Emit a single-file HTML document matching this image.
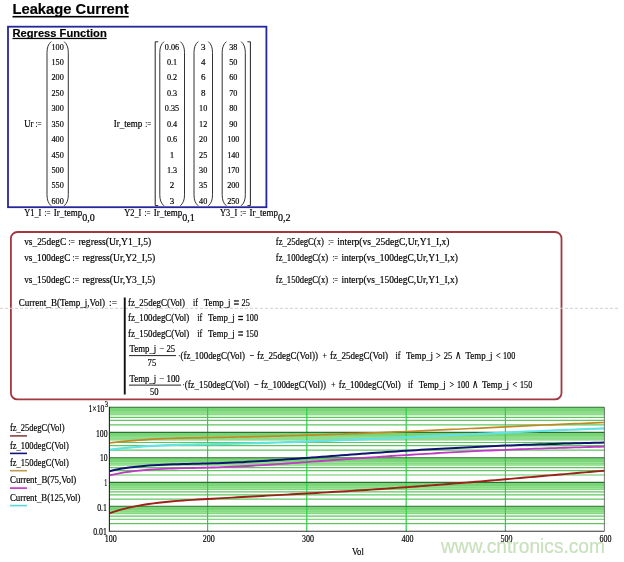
<!DOCTYPE html>
<html><head><meta charset="utf-8"><title>Leakage Current</title>
<style>html,body{margin:0;padding:0;background:#fff;}body{width:624px;height:562px;overflow:hidden;font-family:"Liberation Serif",serif;}svg{display:block}</style>
</head><body>
<svg width="624" height="562" viewBox="0 0 624 562">
<rect width="624" height="562" fill="#fff"/>
<defs><filter id="soft" x="0" y="0" width="100%" height="100%" filterUnits="userSpaceOnUse" color-interpolation-filters="sRGB"><feGaussianBlur stdDeviation="0.32"/></filter></defs>
<g filter="url(#soft)">
<text x="12.5" y="13.75" font-family="Liberation Sans" font-size="14" font-weight="bold" fill="#000" text-anchor="start" textLength="116.2" lengthAdjust="spacingAndGlyphs" stroke="#000" stroke-width="0.18" xml:space="preserve">Leakage Current</text>
<rect x="12.5" y="15.9" width="116.2" height="1.6" fill="#000"/>
<rect x="8" y="26.7" width="258.4" height="180.5" fill="none" stroke="#26269c" stroke-width="1.8"/>
<text x="12.5" y="36.8" font-family="Liberation Sans" font-size="11" font-weight="bold" fill="#000" text-anchor="start" textLength="94.2" lengthAdjust="spacingAndGlyphs" stroke="#000" stroke-width="0.18" xml:space="preserve">Regress Function</text>
<rect x="12.5" y="37.8" width="94.2" height="1.3" fill="#000"/>
<path d="M51.2,41.6 C48.2,44.1 47,47.6 47,52.6 L47,194.8 C47,199.8 48.2,203.3 51.2,205.8" fill="none" stroke="#333" stroke-width="1"/>
<path d="M64.1,41.6 C67.1,44.1 68.3,47.6 68.3,52.6 L68.3,194.8 C68.3,199.8 67.1,203.3 64.1,205.8" fill="none" stroke="#333" stroke-width="1"/>
<text x="57.6" y="49.6" font-family="Liberation Serif" font-size="9" font-weight="normal" fill="#000" text-anchor="middle" textLength="12.29" lengthAdjust="spacingAndGlyphs" stroke="#000" stroke-width="0.18" xml:space="preserve">100</text>
<text x="57.6" y="65.02" font-family="Liberation Serif" font-size="9" font-weight="normal" fill="#000" text-anchor="middle" textLength="12.29" lengthAdjust="spacingAndGlyphs" stroke="#000" stroke-width="0.18" xml:space="preserve">150</text>
<text x="57.6" y="80.44" font-family="Liberation Serif" font-size="9" font-weight="normal" fill="#000" text-anchor="middle" textLength="12.29" lengthAdjust="spacingAndGlyphs" stroke="#000" stroke-width="0.18" xml:space="preserve">200</text>
<text x="57.6" y="95.86" font-family="Liberation Serif" font-size="9" font-weight="normal" fill="#000" text-anchor="middle" textLength="12.29" lengthAdjust="spacingAndGlyphs" stroke="#000" stroke-width="0.18" xml:space="preserve">250</text>
<text x="57.6" y="111.28" font-family="Liberation Serif" font-size="9" font-weight="normal" fill="#000" text-anchor="middle" textLength="12.29" lengthAdjust="spacingAndGlyphs" stroke="#000" stroke-width="0.18" xml:space="preserve">300</text>
<text x="57.6" y="126.7" font-family="Liberation Serif" font-size="9" font-weight="normal" fill="#000" text-anchor="middle" textLength="12.29" lengthAdjust="spacingAndGlyphs" stroke="#000" stroke-width="0.18" xml:space="preserve">350</text>
<text x="57.6" y="142.12" font-family="Liberation Serif" font-size="9" font-weight="normal" fill="#000" text-anchor="middle" textLength="12.29" lengthAdjust="spacingAndGlyphs" stroke="#000" stroke-width="0.18" xml:space="preserve">400</text>
<text x="57.6" y="157.54" font-family="Liberation Serif" font-size="9" font-weight="normal" fill="#000" text-anchor="middle" textLength="12.29" lengthAdjust="spacingAndGlyphs" stroke="#000" stroke-width="0.18" xml:space="preserve">450</text>
<text x="57.6" y="172.96" font-family="Liberation Serif" font-size="9" font-weight="normal" fill="#000" text-anchor="middle" textLength="12.29" lengthAdjust="spacingAndGlyphs" stroke="#000" stroke-width="0.18" xml:space="preserve">500</text>
<text x="57.6" y="188.38" font-family="Liberation Serif" font-size="9" font-weight="normal" fill="#000" text-anchor="middle" textLength="12.29" lengthAdjust="spacingAndGlyphs" stroke="#000" stroke-width="0.18" xml:space="preserve">550</text>
<text x="57.6" y="203.8" font-family="Liberation Serif" font-size="9" font-weight="normal" fill="#000" text-anchor="middle" textLength="12.29" lengthAdjust="spacingAndGlyphs" stroke="#000" stroke-width="0.18" xml:space="preserve">600</text>
<text x="24.2" y="127" font-family="Liberation Serif" font-size="9.4" font-weight="normal" fill="#000" text-anchor="start" textLength="9.2" lengthAdjust="spacingAndGlyphs" stroke="#000" stroke-width="0.18" xml:space="preserve">Ur</text>
<text x="35.5" y="127" font-family="Liberation Serif" font-size="9.4" font-weight="normal" fill="#000" text-anchor="start" textLength="6" lengthAdjust="spacingAndGlyphs" stroke="#000" stroke-width="0.18" xml:space="preserve">:=</text>
<text x="113.8" y="127" font-family="Liberation Serif" font-size="9.4" font-weight="normal" fill="#000" text-anchor="start" textLength="28.5" lengthAdjust="spacingAndGlyphs" stroke="#000" stroke-width="0.18" xml:space="preserve">Ir_temp</text>
<text x="145.2" y="127" font-family="Liberation Serif" font-size="9.4" font-weight="normal" fill="#000" text-anchor="start" textLength="6" lengthAdjust="spacingAndGlyphs" stroke="#000" stroke-width="0.18" xml:space="preserve">:=</text>
<path d="M158.2,41.8 L155.2,41.8 L155.2,205.6 L158.2,205.6" fill="none" stroke="#222" stroke-width="1"/>
<path d="M247.4,41.8 L250.4,41.8 L250.4,205.6 L247.4,205.6" fill="none" stroke="#222" stroke-width="1"/>
<path d="M164.0,41.6 C161.0,44.1 159.8,47.6 159.8,52.6 L159.8,194.8 C159.8,199.8 161.0,203.3 164.0,205.8" fill="none" stroke="#333" stroke-width="1"/>
<path d="M180.3,41.6 C183.3,44.1 184.5,47.6 184.5,52.6 L184.5,194.8 C184.5,199.8 183.3,203.3 180.3,205.8" fill="none" stroke="#333" stroke-width="1"/>
<path d="M198.2,41.6 C195.2,44.1 194,47.6 194,52.6 L194,194.8 C194,199.8 195.2,203.3 198.2,205.8" fill="none" stroke="#333" stroke-width="1"/>
<path d="M208.3,41.6 C211.3,44.1 212.5,47.6 212.5,52.6 L212.5,194.8 C212.5,199.8 211.3,203.3 208.3,205.8" fill="none" stroke="#333" stroke-width="1"/>
<path d="M226.39999999999998,41.6 C223.39999999999998,44.1 222.2,47.6 222.2,52.6 L222.2,194.8 C222.2,199.8 223.39999999999998,203.3 226.39999999999998,205.8" fill="none" stroke="#333" stroke-width="1"/>
<path d="M241.10000000000002,41.6 C244.10000000000002,44.1 245.3,47.6 245.3,52.6 L245.3,194.8 C245.3,199.8 244.10000000000002,203.3 241.10000000000002,205.8" fill="none" stroke="#333" stroke-width="1"/>
<text x="172" y="49.6" font-family="Liberation Serif" font-size="9" font-weight="normal" fill="#000" text-anchor="middle" textLength="14.33" lengthAdjust="spacingAndGlyphs" stroke="#000" stroke-width="0.18" xml:space="preserve">0.06</text>
<text x="172" y="65.02" font-family="Liberation Serif" font-size="9" font-weight="normal" fill="#000" text-anchor="middle" textLength="10.24" lengthAdjust="spacingAndGlyphs" stroke="#000" stroke-width="0.18" xml:space="preserve">0.1</text>
<text x="172" y="80.44" font-family="Liberation Serif" font-size="9" font-weight="normal" fill="#000" text-anchor="middle" textLength="10.24" lengthAdjust="spacingAndGlyphs" stroke="#000" stroke-width="0.18" xml:space="preserve">0.2</text>
<text x="172" y="95.86" font-family="Liberation Serif" font-size="9" font-weight="normal" fill="#000" text-anchor="middle" textLength="10.24" lengthAdjust="spacingAndGlyphs" stroke="#000" stroke-width="0.18" xml:space="preserve">0.3</text>
<text x="172" y="111.28" font-family="Liberation Serif" font-size="9" font-weight="normal" fill="#000" text-anchor="middle" textLength="14.33" lengthAdjust="spacingAndGlyphs" stroke="#000" stroke-width="0.18" xml:space="preserve">0.35</text>
<text x="172" y="126.7" font-family="Liberation Serif" font-size="9" font-weight="normal" fill="#000" text-anchor="middle" textLength="10.24" lengthAdjust="spacingAndGlyphs" stroke="#000" stroke-width="0.18" xml:space="preserve">0.4</text>
<text x="172" y="142.12" font-family="Liberation Serif" font-size="9" font-weight="normal" fill="#000" text-anchor="middle" textLength="10.24" lengthAdjust="spacingAndGlyphs" stroke="#000" stroke-width="0.18" xml:space="preserve">0.6</text>
<text x="172" y="157.54" font-family="Liberation Serif" font-size="9" font-weight="normal" fill="#000" text-anchor="middle" stroke="#000" stroke-width="0.18" xml:space="preserve">1</text>
<text x="172" y="172.96" font-family="Liberation Serif" font-size="9" font-weight="normal" fill="#000" text-anchor="middle" textLength="10.24" lengthAdjust="spacingAndGlyphs" stroke="#000" stroke-width="0.18" xml:space="preserve">1.3</text>
<text x="172" y="188.38" font-family="Liberation Serif" font-size="9" font-weight="normal" fill="#000" text-anchor="middle" stroke="#000" stroke-width="0.18" xml:space="preserve">2</text>
<text x="172" y="203.8" font-family="Liberation Serif" font-size="9" font-weight="normal" fill="#000" text-anchor="middle" stroke="#000" stroke-width="0.18" xml:space="preserve">3</text>
<text x="203.2" y="49.6" font-family="Liberation Serif" font-size="9" font-weight="normal" fill="#000" text-anchor="middle" stroke="#000" stroke-width="0.18" xml:space="preserve">3</text>
<text x="203.2" y="65.02" font-family="Liberation Serif" font-size="9" font-weight="normal" fill="#000" text-anchor="middle" stroke="#000" stroke-width="0.18" xml:space="preserve">4</text>
<text x="203.2" y="80.44" font-family="Liberation Serif" font-size="9" font-weight="normal" fill="#000" text-anchor="middle" stroke="#000" stroke-width="0.18" xml:space="preserve">6</text>
<text x="203.2" y="95.86" font-family="Liberation Serif" font-size="9" font-weight="normal" fill="#000" text-anchor="middle" stroke="#000" stroke-width="0.18" xml:space="preserve">8</text>
<text x="203.2" y="111.28" font-family="Liberation Serif" font-size="9" font-weight="normal" fill="#000" text-anchor="middle" textLength="8.19" lengthAdjust="spacingAndGlyphs" stroke="#000" stroke-width="0.18" xml:space="preserve">10</text>
<text x="203.2" y="126.7" font-family="Liberation Serif" font-size="9" font-weight="normal" fill="#000" text-anchor="middle" textLength="8.19" lengthAdjust="spacingAndGlyphs" stroke="#000" stroke-width="0.18" xml:space="preserve">12</text>
<text x="203.2" y="142.12" font-family="Liberation Serif" font-size="9" font-weight="normal" fill="#000" text-anchor="middle" textLength="8.19" lengthAdjust="spacingAndGlyphs" stroke="#000" stroke-width="0.18" xml:space="preserve">20</text>
<text x="203.2" y="157.54" font-family="Liberation Serif" font-size="9" font-weight="normal" fill="#000" text-anchor="middle" textLength="8.19" lengthAdjust="spacingAndGlyphs" stroke="#000" stroke-width="0.18" xml:space="preserve">25</text>
<text x="203.2" y="172.96" font-family="Liberation Serif" font-size="9" font-weight="normal" fill="#000" text-anchor="middle" textLength="8.19" lengthAdjust="spacingAndGlyphs" stroke="#000" stroke-width="0.18" xml:space="preserve">30</text>
<text x="203.2" y="188.38" font-family="Liberation Serif" font-size="9" font-weight="normal" fill="#000" text-anchor="middle" textLength="8.19" lengthAdjust="spacingAndGlyphs" stroke="#000" stroke-width="0.18" xml:space="preserve">35</text>
<text x="203.2" y="203.8" font-family="Liberation Serif" font-size="9" font-weight="normal" fill="#000" text-anchor="middle" textLength="8.19" lengthAdjust="spacingAndGlyphs" stroke="#000" stroke-width="0.18" xml:space="preserve">40</text>
<text x="233.3" y="49.6" font-family="Liberation Serif" font-size="9" font-weight="normal" fill="#000" text-anchor="middle" textLength="8.19" lengthAdjust="spacingAndGlyphs" stroke="#000" stroke-width="0.18" xml:space="preserve">38</text>
<text x="233.3" y="65.02" font-family="Liberation Serif" font-size="9" font-weight="normal" fill="#000" text-anchor="middle" textLength="8.19" lengthAdjust="spacingAndGlyphs" stroke="#000" stroke-width="0.18" xml:space="preserve">50</text>
<text x="233.3" y="80.44" font-family="Liberation Serif" font-size="9" font-weight="normal" fill="#000" text-anchor="middle" textLength="8.19" lengthAdjust="spacingAndGlyphs" stroke="#000" stroke-width="0.18" xml:space="preserve">60</text>
<text x="233.3" y="95.86" font-family="Liberation Serif" font-size="9" font-weight="normal" fill="#000" text-anchor="middle" textLength="8.19" lengthAdjust="spacingAndGlyphs" stroke="#000" stroke-width="0.18" xml:space="preserve">70</text>
<text x="233.3" y="111.28" font-family="Liberation Serif" font-size="9" font-weight="normal" fill="#000" text-anchor="middle" textLength="8.19" lengthAdjust="spacingAndGlyphs" stroke="#000" stroke-width="0.18" xml:space="preserve">80</text>
<text x="233.3" y="126.7" font-family="Liberation Serif" font-size="9" font-weight="normal" fill="#000" text-anchor="middle" textLength="8.19" lengthAdjust="spacingAndGlyphs" stroke="#000" stroke-width="0.18" xml:space="preserve">90</text>
<text x="233.3" y="142.12" font-family="Liberation Serif" font-size="9" font-weight="normal" fill="#000" text-anchor="middle" textLength="12.29" lengthAdjust="spacingAndGlyphs" stroke="#000" stroke-width="0.18" xml:space="preserve">100</text>
<text x="233.3" y="157.54" font-family="Liberation Serif" font-size="9" font-weight="normal" fill="#000" text-anchor="middle" textLength="12.29" lengthAdjust="spacingAndGlyphs" stroke="#000" stroke-width="0.18" xml:space="preserve">140</text>
<text x="233.3" y="172.96" font-family="Liberation Serif" font-size="9" font-weight="normal" fill="#000" text-anchor="middle" textLength="12.29" lengthAdjust="spacingAndGlyphs" stroke="#000" stroke-width="0.18" xml:space="preserve">170</text>
<text x="233.3" y="188.38" font-family="Liberation Serif" font-size="9" font-weight="normal" fill="#000" text-anchor="middle" textLength="12.29" lengthAdjust="spacingAndGlyphs" stroke="#000" stroke-width="0.18" xml:space="preserve">200</text>
<text x="233.3" y="203.8" font-family="Liberation Serif" font-size="9" font-weight="normal" fill="#000" text-anchor="middle" textLength="12.29" lengthAdjust="spacingAndGlyphs" stroke="#000" stroke-width="0.18" xml:space="preserve">250</text>
<text x="24.2" y="216.2" font-family="Liberation Serif" font-size="9.4" font-weight="normal" fill="#000" text-anchor="start" textLength="17.2" lengthAdjust="spacingAndGlyphs" stroke="#000" stroke-width="0.18" xml:space="preserve">Y1_I</text>
<text x="44.5" y="216.2" font-family="Liberation Serif" font-size="9.4" font-weight="normal" fill="#000" text-anchor="start" textLength="6" lengthAdjust="spacingAndGlyphs" stroke="#000" stroke-width="0.18" xml:space="preserve">:=</text>
<text x="53.8" y="216.2" font-family="Liberation Serif" font-size="9.4" font-weight="normal" fill="#000" text-anchor="start" textLength="28.4" lengthAdjust="spacingAndGlyphs" stroke="#000" stroke-width="0.18" xml:space="preserve">Ir_temp</text>
<text x="82.2" y="221.2" font-family="Liberation Serif" font-size="10" font-weight="normal" fill="#000" text-anchor="start" textLength="12.6" lengthAdjust="spacingAndGlyphs" stroke="#000" stroke-width="0.18" xml:space="preserve">0,0</text>
<text x="124.2" y="216.2" font-family="Liberation Serif" font-size="9.4" font-weight="normal" fill="#000" text-anchor="start" textLength="17.2" lengthAdjust="spacingAndGlyphs" stroke="#000" stroke-width="0.18" xml:space="preserve">Y2_I</text>
<text x="144.5" y="216.2" font-family="Liberation Serif" font-size="9.4" font-weight="normal" fill="#000" text-anchor="start" textLength="6" lengthAdjust="spacingAndGlyphs" stroke="#000" stroke-width="0.18" xml:space="preserve">:=</text>
<text x="153.8" y="216.2" font-family="Liberation Serif" font-size="9.4" font-weight="normal" fill="#000" text-anchor="start" textLength="28.4" lengthAdjust="spacingAndGlyphs" stroke="#000" stroke-width="0.18" xml:space="preserve">Ir_temp</text>
<text x="182.2" y="221.2" font-family="Liberation Serif" font-size="10" font-weight="normal" fill="#000" text-anchor="start" textLength="12.6" lengthAdjust="spacingAndGlyphs" stroke="#000" stroke-width="0.18" xml:space="preserve">0,1</text>
<text x="220" y="216.2" font-family="Liberation Serif" font-size="9.4" font-weight="normal" fill="#000" text-anchor="start" textLength="17.2" lengthAdjust="spacingAndGlyphs" stroke="#000" stroke-width="0.18" xml:space="preserve">Y3_I</text>
<text x="240.3" y="216.2" font-family="Liberation Serif" font-size="9.4" font-weight="normal" fill="#000" text-anchor="start" textLength="6" lengthAdjust="spacingAndGlyphs" stroke="#000" stroke-width="0.18" xml:space="preserve">:=</text>
<text x="249.6" y="216.2" font-family="Liberation Serif" font-size="9.4" font-weight="normal" fill="#000" text-anchor="start" textLength="28.4" lengthAdjust="spacingAndGlyphs" stroke="#000" stroke-width="0.18" xml:space="preserve">Ir_temp</text>
<text x="278" y="221.2" font-family="Liberation Serif" font-size="10" font-weight="normal" fill="#000" text-anchor="start" textLength="12.6" lengthAdjust="spacingAndGlyphs" stroke="#000" stroke-width="0.18" xml:space="preserve">0,2</text>
<rect x="10.9" y="232" width="550.6" height="167.4" rx="6.5" ry="6.5" fill="none" stroke="#a2383f" stroke-width="1.8"/>
<line x1="0" y1="308.3" x2="619" y2="308.3" stroke="#d0d0d0" stroke-width="1" stroke-dasharray="3,2"/>
<text x="24.2" y="244.6" font-family="Liberation Serif" font-size="9.4" font-weight="normal" fill="#000" text-anchor="start" textLength="42" lengthAdjust="spacingAndGlyphs" stroke="#000" stroke-width="0.18" xml:space="preserve">vs_25degC</text>
<text x="68.4" y="244.6" font-family="Liberation Serif" font-size="9.4" font-weight="normal" fill="#000" text-anchor="start" textLength="6.4" lengthAdjust="spacingAndGlyphs" stroke="#000" stroke-width="0.18" xml:space="preserve">:=</text>
<text x="78.4" y="244.6" font-family="Liberation Serif" font-size="9.4" font-weight="normal" fill="#000" text-anchor="start" textLength="72.9" lengthAdjust="spacingAndGlyphs" stroke="#000" stroke-width="0.18" xml:space="preserve">regress(Ur,Y1_I,5)</text>
<text x="24.2" y="260.6" font-family="Liberation Serif" font-size="9.4" font-weight="normal" fill="#000" text-anchor="start" textLength="46.2" lengthAdjust="spacingAndGlyphs" stroke="#000" stroke-width="0.18" xml:space="preserve">vs_100degC</text>
<text x="72.60000000000001" y="260.6" font-family="Liberation Serif" font-size="9.4" font-weight="normal" fill="#000" text-anchor="start" textLength="6.4" lengthAdjust="spacingAndGlyphs" stroke="#000" stroke-width="0.18" xml:space="preserve">:=</text>
<text x="82.60000000000001" y="260.6" font-family="Liberation Serif" font-size="9.4" font-weight="normal" fill="#000" text-anchor="start" textLength="72.7" lengthAdjust="spacingAndGlyphs" stroke="#000" stroke-width="0.18" xml:space="preserve">regress(Ur,Y2_I,5)</text>
<text x="24.2" y="283.4" font-family="Liberation Serif" font-size="9.4" font-weight="normal" fill="#000" text-anchor="start" textLength="46.2" lengthAdjust="spacingAndGlyphs" stroke="#000" stroke-width="0.18" xml:space="preserve">vs_150degC</text>
<text x="72.60000000000001" y="283.4" font-family="Liberation Serif" font-size="9.4" font-weight="normal" fill="#000" text-anchor="start" textLength="6.4" lengthAdjust="spacingAndGlyphs" stroke="#000" stroke-width="0.18" xml:space="preserve">:=</text>
<text x="82.60000000000001" y="283.4" font-family="Liberation Serif" font-size="9.4" font-weight="normal" fill="#000" text-anchor="start" textLength="72.7" lengthAdjust="spacingAndGlyphs" stroke="#000" stroke-width="0.18" xml:space="preserve">regress(Ur,Y3_I,5)</text>
<text x="275.8" y="244.6" font-family="Liberation Serif" font-size="9.4" font-weight="normal" fill="#000" text-anchor="start" textLength="48.2" lengthAdjust="spacingAndGlyphs" stroke="#000" stroke-width="0.18" xml:space="preserve">fz_25degC(x)</text>
<text x="328.2" y="244.6" font-family="Liberation Serif" font-size="9.4" font-weight="normal" fill="#000" text-anchor="start" textLength="5.6" lengthAdjust="spacingAndGlyphs" stroke="#000" stroke-width="0.18" xml:space="preserve">:=</text>
<text x="337.2" y="244.6" font-family="Liberation Serif" font-size="9.4" font-weight="normal" fill="#000" text-anchor="start" textLength="112.30000000000001" lengthAdjust="spacingAndGlyphs" stroke="#000" stroke-width="0.18" xml:space="preserve">interp(vs_25degC,Ur,Y1_I,x)</text>
<text x="275.8" y="260.6" font-family="Liberation Serif" font-size="9.4" font-weight="normal" fill="#000" text-anchor="start" textLength="52.4" lengthAdjust="spacingAndGlyphs" stroke="#000" stroke-width="0.18" xml:space="preserve">fz_100degC(x)</text>
<text x="332.4" y="260.6" font-family="Liberation Serif" font-size="9.4" font-weight="normal" fill="#000" text-anchor="start" textLength="5.6" lengthAdjust="spacingAndGlyphs" stroke="#000" stroke-width="0.18" xml:space="preserve">:=</text>
<text x="341.4" y="260.6" font-family="Liberation Serif" font-size="9.4" font-weight="normal" fill="#000" text-anchor="start" textLength="116.40000000000003" lengthAdjust="spacingAndGlyphs" stroke="#000" stroke-width="0.18" xml:space="preserve">interp(vs_100degC,Ur,Y1_I,x)</text>
<text x="275.8" y="283.4" font-family="Liberation Serif" font-size="9.4" font-weight="normal" fill="#000" text-anchor="start" textLength="52.4" lengthAdjust="spacingAndGlyphs" stroke="#000" stroke-width="0.18" xml:space="preserve">fz_150degC(x)</text>
<text x="332.4" y="283.4" font-family="Liberation Serif" font-size="9.4" font-weight="normal" fill="#000" text-anchor="start" textLength="5.6" lengthAdjust="spacingAndGlyphs" stroke="#000" stroke-width="0.18" xml:space="preserve">:=</text>
<text x="341.4" y="283.4" font-family="Liberation Serif" font-size="9.4" font-weight="normal" fill="#000" text-anchor="start" textLength="116.40000000000003" lengthAdjust="spacingAndGlyphs" stroke="#000" stroke-width="0.18" xml:space="preserve">interp(vs_150degC,Ur,Y1_I,x)</text>
<text x="18.8" y="305.6" font-family="Liberation Serif" font-size="9.4" font-weight="normal" fill="#000" text-anchor="start" textLength="86.2" lengthAdjust="spacingAndGlyphs" stroke="#000" stroke-width="0.18" xml:space="preserve">Current_B(Temp_j,Vol)</text>
<text x="109" y="305.6" font-family="Liberation Serif" font-size="9.4" font-weight="normal" fill="#000" text-anchor="start" textLength="8" lengthAdjust="spacingAndGlyphs" stroke="#000" stroke-width="0.18" xml:space="preserve">:=</text>
<rect x="123.8" y="297.5" width="1.9" height="97" fill="#111"/>
<text x="128" y="305.6" font-family="Liberation Serif" font-size="9.4" font-weight="normal" fill="#000" text-anchor="start" textLength="57" lengthAdjust="spacingAndGlyphs" stroke="#000" stroke-width="0.18" xml:space="preserve">fz_25degC(Vol)</text>
<text x="193" y="305.6" font-family="Liberation Serif" font-size="9.4" font-weight="normal" fill="#000" text-anchor="start" textLength="5" lengthAdjust="spacingAndGlyphs" stroke="#000" stroke-width="0.18" xml:space="preserve">if</text>
<text x="203.8" y="305.6" font-family="Liberation Serif" font-size="9.4" font-weight="normal" fill="#000" text-anchor="start" textLength="26.7" lengthAdjust="spacingAndGlyphs" stroke="#000" stroke-width="0.18" xml:space="preserve">Temp_j</text>
<rect x="234.0" y="300.3" width="4.8" height="1.3" fill="#111"/><rect x="234.0" y="303.4" width="4.8" height="1.3" fill="#111"/>
<text x="241.5" y="305.6" font-family="Liberation Serif" font-size="9.4" font-weight="normal" fill="#000" text-anchor="start" textLength="8.3" lengthAdjust="spacingAndGlyphs" stroke="#000" stroke-width="0.18" xml:space="preserve">25</text>
<text x="128" y="321.1" font-family="Liberation Serif" font-size="9.4" font-weight="normal" fill="#000" text-anchor="start" textLength="61.19999999999999" lengthAdjust="spacingAndGlyphs" stroke="#000" stroke-width="0.18" xml:space="preserve">fz_100degC(Vol)</text>
<text x="197.2" y="321.1" font-family="Liberation Serif" font-size="9.4" font-weight="normal" fill="#000" text-anchor="start" textLength="5" lengthAdjust="spacingAndGlyphs" stroke="#000" stroke-width="0.18" xml:space="preserve">if</text>
<text x="208.0" y="321.1" font-family="Liberation Serif" font-size="9.4" font-weight="normal" fill="#000" text-anchor="start" textLength="26.7" lengthAdjust="spacingAndGlyphs" stroke="#000" stroke-width="0.18" xml:space="preserve">Temp_j</text>
<rect x="238.2" y="315.8" width="4.8" height="1.3" fill="#111"/><rect x="238.2" y="318.9" width="4.8" height="1.3" fill="#111"/>
<text x="245.7" y="321.1" font-family="Liberation Serif" font-size="9.4" font-weight="normal" fill="#000" text-anchor="start" textLength="12.3" lengthAdjust="spacingAndGlyphs" stroke="#000" stroke-width="0.18" xml:space="preserve">100</text>
<text x="128" y="336.6" font-family="Liberation Serif" font-size="9.4" font-weight="normal" fill="#000" text-anchor="start" textLength="61.19999999999999" lengthAdjust="spacingAndGlyphs" stroke="#000" stroke-width="0.18" xml:space="preserve">fz_150degC(Vol)</text>
<text x="197.2" y="336.6" font-family="Liberation Serif" font-size="9.4" font-weight="normal" fill="#000" text-anchor="start" textLength="5" lengthAdjust="spacingAndGlyphs" stroke="#000" stroke-width="0.18" xml:space="preserve">if</text>
<text x="208.0" y="336.6" font-family="Liberation Serif" font-size="9.4" font-weight="normal" fill="#000" text-anchor="start" textLength="26.7" lengthAdjust="spacingAndGlyphs" stroke="#000" stroke-width="0.18" xml:space="preserve">Temp_j</text>
<rect x="238.2" y="331.3" width="4.8" height="1.3" fill="#111"/><rect x="238.2" y="334.4" width="4.8" height="1.3" fill="#111"/>
<text x="245.7" y="336.6" font-family="Liberation Serif" font-size="9.4" font-weight="normal" fill="#000" text-anchor="start" textLength="12.3" lengthAdjust="spacingAndGlyphs" stroke="#000" stroke-width="0.18" xml:space="preserve">150</text>
<text x="129.5" y="352" font-family="Liberation Serif" font-size="9.4" font-weight="normal" fill="#000" text-anchor="start" textLength="26.7" lengthAdjust="spacingAndGlyphs" stroke="#000" stroke-width="0.18" xml:space="preserve">Temp_j</text>
<text x="159.3" y="352" font-family="Liberation Serif" font-size="9.4" font-weight="normal" fill="#000" text-anchor="start" textLength="5" lengthAdjust="spacingAndGlyphs" stroke="#000" stroke-width="0.18" xml:space="preserve">−</text>
<text x="166.5" y="352" font-family="Liberation Serif" font-size="9.4" font-weight="normal" fill="#000" text-anchor="start" textLength="8.7" lengthAdjust="spacingAndGlyphs" stroke="#000" stroke-width="0.18" xml:space="preserve">25</text>
<rect x="129" y="355.1" width="47" height="1" fill="#222"/>
<text x="147.6" y="365.6" font-family="Liberation Serif" font-size="9.4" font-weight="normal" fill="#000" text-anchor="start" textLength="8.6" lengthAdjust="spacingAndGlyphs" stroke="#000" stroke-width="0.18" xml:space="preserve">75</text>
<text x="178.3" y="358.7" font-family="Liberation Serif" font-size="9.4" font-weight="normal" fill="#000" text-anchor="start" textLength="2" lengthAdjust="spacingAndGlyphs" stroke="#000" stroke-width="0.18" xml:space="preserve">·</text>
<text x="180.5" y="358.7" font-family="Liberation Serif" font-size="9.4" font-weight="normal" fill="#000" text-anchor="start" textLength="64.5" lengthAdjust="spacingAndGlyphs" stroke="#000" stroke-width="0.18" xml:space="preserve">(fz_100degC(Vol)</text>
<text x="249.4" y="358.7" font-family="Liberation Serif" font-size="9.4" font-weight="bold" fill="#000" text-anchor="start" textLength="4.6" lengthAdjust="spacingAndGlyphs" stroke="#000" stroke-width="0.18" xml:space="preserve">−</text>
<text x="257" y="358.7" font-family="Liberation Serif" font-size="9.4" font-weight="normal" fill="#000" text-anchor="start" textLength="61" lengthAdjust="spacingAndGlyphs" stroke="#000" stroke-width="0.18" xml:space="preserve">fz_25degC(Vol))</text>
<text x="322.5" y="358.7" font-family="Liberation Serif" font-size="9.4" font-weight="normal" fill="#000" text-anchor="start" textLength="4.5" lengthAdjust="spacingAndGlyphs" stroke="#000" stroke-width="0.18" xml:space="preserve">+</text>
<text x="330" y="358.7" font-family="Liberation Serif" font-size="9.4" font-weight="normal" fill="#000" text-anchor="start" textLength="58" lengthAdjust="spacingAndGlyphs" stroke="#000" stroke-width="0.18" xml:space="preserve">fz_25degC(Vol)</text>
<text x="395.5" y="358.7" font-family="Liberation Serif" font-size="9.4" font-weight="normal" fill="#000" text-anchor="start" textLength="5" lengthAdjust="spacingAndGlyphs" stroke="#000" stroke-width="0.18" xml:space="preserve">if</text>
<text x="406" y="358.7" font-family="Liberation Serif" font-size="9.4" font-weight="normal" fill="#000" text-anchor="start" textLength="27" lengthAdjust="spacingAndGlyphs" stroke="#000" stroke-width="0.18" xml:space="preserve">Temp_j</text>
<text x="436" y="358.7" font-family="Liberation Serif" font-size="9.4" font-weight="normal" fill="#000" text-anchor="start" textLength="4.6" lengthAdjust="spacingAndGlyphs" stroke="#000" stroke-width="0.18" xml:space="preserve">&gt;</text>
<text x="443.7" y="358.7" font-family="Liberation Serif" font-size="9.4" font-weight="normal" fill="#000" text-anchor="start" textLength="8.5" lengthAdjust="spacingAndGlyphs" stroke="#000" stroke-width="0.18" xml:space="preserve">25</text>
<text x="454.8" y="358.7" font-family="Liberation Serif" font-size="12" font-weight="normal" fill="#000" text-anchor="start" textLength="6.6" lengthAdjust="spacingAndGlyphs" stroke="#000" stroke-width="0.18" xml:space="preserve">∧</text>
<text x="465.5" y="358.7" font-family="Liberation Serif" font-size="9.4" font-weight="normal" fill="#000" text-anchor="start" textLength="27" lengthAdjust="spacingAndGlyphs" stroke="#000" stroke-width="0.18" xml:space="preserve">Temp_j</text>
<text x="496" y="358.7" font-family="Liberation Serif" font-size="9.4" font-weight="normal" fill="#000" text-anchor="start" textLength="4.6" lengthAdjust="spacingAndGlyphs" stroke="#000" stroke-width="0.18" xml:space="preserve">&lt;</text>
<text x="503" y="358.7" font-family="Liberation Serif" font-size="9.4" font-weight="normal" fill="#000" text-anchor="start" textLength="12.2" lengthAdjust="spacingAndGlyphs" stroke="#000" stroke-width="0.18" xml:space="preserve">100</text>
<text x="129.5" y="381.6" font-family="Liberation Serif" font-size="9.4" font-weight="normal" fill="#000" text-anchor="start" textLength="26.7" lengthAdjust="spacingAndGlyphs" stroke="#000" stroke-width="0.18" xml:space="preserve">Temp_j</text>
<text x="159.3" y="381.6" font-family="Liberation Serif" font-size="9.4" font-weight="normal" fill="#000" text-anchor="start" textLength="5" lengthAdjust="spacingAndGlyphs" stroke="#000" stroke-width="0.18" xml:space="preserve">−</text>
<text x="166.5" y="381.6" font-family="Liberation Serif" font-size="9.4" font-weight="normal" fill="#000" text-anchor="start" textLength="13.2" lengthAdjust="spacingAndGlyphs" stroke="#000" stroke-width="0.18" xml:space="preserve">100</text>
<rect x="129" y="384.6" width="52" height="1" fill="#222"/>
<text x="150" y="394.8" font-family="Liberation Serif" font-size="9.4" font-weight="normal" fill="#000" text-anchor="start" textLength="8.6" lengthAdjust="spacingAndGlyphs" stroke="#000" stroke-width="0.18" xml:space="preserve">50</text>
<text x="182.5" y="388.3" font-family="Liberation Serif" font-size="9.4" font-weight="normal" fill="#000" text-anchor="start" textLength="2" lengthAdjust="spacingAndGlyphs" stroke="#000" stroke-width="0.18" xml:space="preserve">·</text>
<text x="184.7" y="388.3" font-family="Liberation Serif" font-size="9.4" font-weight="normal" fill="#000" text-anchor="start" textLength="64.5" lengthAdjust="spacingAndGlyphs" stroke="#000" stroke-width="0.18" xml:space="preserve">(fz_150degC(Vol)</text>
<text x="254" y="388.3" font-family="Liberation Serif" font-size="9.4" font-weight="bold" fill="#000" text-anchor="start" textLength="4.6" lengthAdjust="spacingAndGlyphs" stroke="#000" stroke-width="0.18" xml:space="preserve">−</text>
<text x="261" y="388.3" font-family="Liberation Serif" font-size="9.4" font-weight="normal" fill="#000" text-anchor="start" textLength="65" lengthAdjust="spacingAndGlyphs" stroke="#000" stroke-width="0.18" xml:space="preserve">fz_100degC(Vol))</text>
<text x="331" y="388.3" font-family="Liberation Serif" font-size="9.4" font-weight="normal" fill="#000" text-anchor="start" textLength="4.5" lengthAdjust="spacingAndGlyphs" stroke="#000" stroke-width="0.18" xml:space="preserve">+</text>
<text x="338.7" y="388.3" font-family="Liberation Serif" font-size="9.4" font-weight="normal" fill="#000" text-anchor="start" textLength="62" lengthAdjust="spacingAndGlyphs" stroke="#000" stroke-width="0.18" xml:space="preserve">fz_100degC(Vol)</text>
<text x="408" y="388.3" font-family="Liberation Serif" font-size="9.4" font-weight="normal" fill="#000" text-anchor="start" textLength="5" lengthAdjust="spacingAndGlyphs" stroke="#000" stroke-width="0.18" xml:space="preserve">if</text>
<text x="418.7" y="388.3" font-family="Liberation Serif" font-size="9.4" font-weight="normal" fill="#000" text-anchor="start" textLength="27" lengthAdjust="spacingAndGlyphs" stroke="#000" stroke-width="0.18" xml:space="preserve">Temp_j</text>
<text x="449.5" y="388.3" font-family="Liberation Serif" font-size="9.4" font-weight="normal" fill="#000" text-anchor="start" textLength="4.6" lengthAdjust="spacingAndGlyphs" stroke="#000" stroke-width="0.18" xml:space="preserve">&gt;</text>
<text x="457" y="388.3" font-family="Liberation Serif" font-size="9.4" font-weight="normal" fill="#000" text-anchor="start" textLength="12.2" lengthAdjust="spacingAndGlyphs" stroke="#000" stroke-width="0.18" xml:space="preserve">100</text>
<text x="472.3" y="388.3" font-family="Liberation Serif" font-size="12" font-weight="normal" fill="#000" text-anchor="start" textLength="6.6" lengthAdjust="spacingAndGlyphs" stroke="#000" stroke-width="0.18" xml:space="preserve">∧</text>
<text x="482" y="388.3" font-family="Liberation Serif" font-size="9.4" font-weight="normal" fill="#000" text-anchor="start" textLength="27" lengthAdjust="spacingAndGlyphs" stroke="#000" stroke-width="0.18" xml:space="preserve">Temp_j</text>
<text x="512.5" y="388.3" font-family="Liberation Serif" font-size="9.4" font-weight="normal" fill="#000" text-anchor="start" textLength="4.6" lengthAdjust="spacingAndGlyphs" stroke="#000" stroke-width="0.18" xml:space="preserve">&lt;</text>
<text x="520" y="388.3" font-family="Liberation Serif" font-size="9.4" font-weight="normal" fill="#000" text-anchor="start" textLength="12.2" lengthAdjust="spacingAndGlyphs" stroke="#000" stroke-width="0.18" xml:space="preserve">150</text>
<rect x="109.4" y="407.3" width="495.0" height="123.90000000000003" fill="#fff"/>
<rect x="109.4" y="506.20" width="495.0" height="8.03" fill="#7ed87a"/>
<line x1="109.4" y1="511.75" x2="604.4" y2="511.75" stroke="#74d474" stroke-width="0.7"/>
<line x1="109.4" y1="510.07" x2="604.4" y2="510.07" stroke="#74d474" stroke-width="0.7"/>
<line x1="109.4" y1="508.62" x2="604.4" y2="508.62" stroke="#74d474" stroke-width="0.7"/>
<line x1="109.4" y1="507.34" x2="604.4" y2="507.34" stroke="#74d474" stroke-width="0.7"/>
<line x1="109.4" y1="512.69" x2="604.4" y2="512.69" stroke="#b2e8ae" stroke-width="0.7"/>
<line x1="109.4" y1="510.88" x2="604.4" y2="510.88" stroke="#b2e8ae" stroke-width="0.7"/>
<line x1="109.4" y1="523.67" x2="604.4" y2="523.67" stroke="#5ec65e" stroke-width="1.2"/>
<line x1="109.4" y1="519.27" x2="604.4" y2="519.27" stroke="#5ec65e" stroke-width="1.2"/>
<line x1="109.4" y1="516.15" x2="604.4" y2="516.15" stroke="#5ec65e" stroke-width="1.2"/>
<rect x="109.4" y="482.40" width="495.0" height="7.66" fill="#7ed87a"/>
<line x1="109.4" y1="487.68" x2="604.4" y2="487.68" stroke="#74d474" stroke-width="0.7"/>
<line x1="109.4" y1="486.09" x2="604.4" y2="486.09" stroke="#74d474" stroke-width="0.7"/>
<line x1="109.4" y1="484.71" x2="604.4" y2="484.71" stroke="#74d474" stroke-width="0.7"/>
<line x1="109.4" y1="483.49" x2="604.4" y2="483.49" stroke="#74d474" stroke-width="0.7"/>
<line x1="109.4" y1="488.58" x2="604.4" y2="488.58" stroke="#b2e8ae" stroke-width="0.7"/>
<line x1="109.4" y1="486.85" x2="604.4" y2="486.85" stroke="#b2e8ae" stroke-width="0.7"/>
<line x1="109.4" y1="499.04" x2="604.4" y2="499.04" stroke="#5ec65e" stroke-width="1.2"/>
<line x1="109.4" y1="494.84" x2="604.4" y2="494.84" stroke="#5ec65e" stroke-width="1.2"/>
<line x1="109.4" y1="491.87" x2="604.4" y2="491.87" stroke="#5ec65e" stroke-width="1.2"/>
<rect x="109.4" y="457.80" width="495.0" height="7.91" fill="#7ed87a"/>
<line x1="109.4" y1="463.26" x2="604.4" y2="463.26" stroke="#74d474" stroke-width="0.7"/>
<line x1="109.4" y1="461.61" x2="604.4" y2="461.61" stroke="#74d474" stroke-width="0.7"/>
<line x1="109.4" y1="460.18" x2="604.4" y2="460.18" stroke="#74d474" stroke-width="0.7"/>
<line x1="109.4" y1="458.93" x2="604.4" y2="458.93" stroke="#74d474" stroke-width="0.7"/>
<line x1="109.4" y1="464.19" x2="604.4" y2="464.19" stroke="#b2e8ae" stroke-width="0.7"/>
<line x1="109.4" y1="462.40" x2="604.4" y2="462.40" stroke="#b2e8ae" stroke-width="0.7"/>
<line x1="109.4" y1="474.99" x2="604.4" y2="474.99" stroke="#5ec65e" stroke-width="1.2"/>
<line x1="109.4" y1="470.66" x2="604.4" y2="470.66" stroke="#5ec65e" stroke-width="1.2"/>
<line x1="109.4" y1="467.59" x2="604.4" y2="467.59" stroke="#5ec65e" stroke-width="1.2"/>
<rect x="109.4" y="432.40" width="495.0" height="8.15" fill="#7ed87a"/>
<line x1="109.4" y1="438.03" x2="604.4" y2="438.03" stroke="#74d474" stroke-width="0.7"/>
<line x1="109.4" y1="436.33" x2="604.4" y2="436.33" stroke="#74d474" stroke-width="0.7"/>
<line x1="109.4" y1="434.86" x2="604.4" y2="434.86" stroke="#74d474" stroke-width="0.7"/>
<line x1="109.4" y1="433.56" x2="604.4" y2="433.56" stroke="#74d474" stroke-width="0.7"/>
<line x1="109.4" y1="438.99" x2="604.4" y2="438.99" stroke="#b2e8ae" stroke-width="0.7"/>
<line x1="109.4" y1="437.15" x2="604.4" y2="437.15" stroke="#b2e8ae" stroke-width="0.7"/>
<line x1="109.4" y1="450.15" x2="604.4" y2="450.15" stroke="#5ec65e" stroke-width="1.2"/>
<line x1="109.4" y1="445.68" x2="604.4" y2="445.68" stroke="#5ec65e" stroke-width="1.2"/>
<line x1="109.4" y1="442.51" x2="604.4" y2="442.51" stroke="#5ec65e" stroke-width="1.2"/>
<rect x="109.4" y="407.30" width="495.0" height="8.06" fill="#7ed87a"/>
<line x1="109.4" y1="412.87" x2="604.4" y2="412.87" stroke="#74d474" stroke-width="0.7"/>
<line x1="109.4" y1="411.19" x2="604.4" y2="411.19" stroke="#74d474" stroke-width="0.7"/>
<line x1="109.4" y1="409.73" x2="604.4" y2="409.73" stroke="#74d474" stroke-width="0.7"/>
<line x1="109.4" y1="408.45" x2="604.4" y2="408.45" stroke="#74d474" stroke-width="0.7"/>
<line x1="109.4" y1="413.82" x2="604.4" y2="413.82" stroke="#b2e8ae" stroke-width="0.7"/>
<line x1="109.4" y1="412.00" x2="604.4" y2="412.00" stroke="#b2e8ae" stroke-width="0.7"/>
<line x1="109.4" y1="424.84" x2="604.4" y2="424.84" stroke="#5ec65e" stroke-width="1.2"/>
<line x1="109.4" y1="420.42" x2="604.4" y2="420.42" stroke="#5ec65e" stroke-width="1.2"/>
<line x1="109.4" y1="417.29" x2="604.4" y2="417.29" stroke="#5ec65e" stroke-width="1.2"/>
<line x1="207.60" y1="407.3" x2="207.60" y2="531.2" stroke="#2ed045" stroke-width="1.2"/>
<line x1="306.80" y1="407.3" x2="306.80" y2="531.2" stroke="#2ed045" stroke-width="1.2"/>
<line x1="406.20" y1="407.3" x2="406.20" y2="531.2" stroke="#2ed045" stroke-width="1.2"/>
<line x1="505.40" y1="407.3" x2="505.40" y2="531.2" stroke="#2ed045" stroke-width="1.2"/>
<line x1="109.4" y1="506.20" x2="604.4" y2="506.20" stroke="#2f6f33" stroke-width="1.1"/>
<line x1="109.4" y1="482.40" x2="604.4" y2="482.40" stroke="#2f6f33" stroke-width="1.1"/>
<line x1="109.4" y1="457.80" x2="604.4" y2="457.80" stroke="#2f6f33" stroke-width="1.1"/>
<line x1="109.4" y1="432.40" x2="604.4" y2="432.40" stroke="#2f6f33" stroke-width="1.1"/>
<line x1="109.4" y1="407.30" x2="604.4" y2="407.30" stroke="#2f6f33" stroke-width="1.1"/>
<polyline points="109.4,449.79 114.3,449.20 119.2,448.66 124.1,448.15 129.0,447.68 133.9,447.24 138.9,446.83 143.8,446.46 148.7,446.13 153.6,445.83 158.5,445.57 163.4,445.34 168.3,445.15 173.2,444.98 178.1,444.84 183.1,444.72 188.0,444.62 192.9,444.53 197.8,444.44 202.7,444.35 207.6,444.26 212.6,444.17 217.5,444.08 222.5,443.97 227.4,443.86 232.4,443.75 237.4,443.63 242.3,443.50 247.3,443.37 252.2,443.23 257.2,443.09 262.2,442.95 267.1,442.80 272.1,442.66 277.0,442.50 282.0,442.35 287.0,442.19 291.9,442.03 296.9,441.86 301.8,441.69 306.8,441.52 311.8,441.35 316.7,441.17 321.7,440.98 326.7,440.80 331.6,440.61 336.6,440.41 341.6,440.22 346.6,440.01 351.5,439.81 356.5,439.60 361.5,439.39 366.4,439.18 371.4,438.96 376.4,438.74 381.4,438.52 386.3,438.29 391.3,438.07 396.3,437.84 401.2,437.61 406.2,437.37 411.2,437.14 416.1,436.90 421.1,436.66 426.0,436.43 431.0,436.19 436.0,435.95 440.9,435.71 445.9,435.46 450.8,435.22 455.8,434.98 460.8,434.74 465.7,434.50 470.7,434.26 475.6,434.02 480.6,433.78 485.6,433.54 490.5,433.30 495.5,433.06 500.4,432.83 505.4,432.60 510.3,432.36 515.3,432.14 520.2,431.91 525.2,431.69 530.1,431.46 535.1,431.24 540.0,431.02 545.0,430.81 550.0,430.59 554.9,430.38 559.8,430.17 564.8,429.97 569.8,429.76 574.7,429.56 579.6,429.36 584.6,429.17 589.5,428.97 594.5,428.78 599.5,428.60 604.4,428.41" fill="none" stroke="#62e2e2" stroke-width="2.2" stroke-linejoin="round"/>
<polyline points="109.4,475.47 114.3,474.30 119.2,473.31 124.1,472.48 129.0,471.76 133.9,471.14 138.9,470.60 143.8,470.14 148.7,469.74 153.6,469.39 158.5,469.10 163.4,468.86 168.3,468.65 173.2,468.48 178.1,468.33 183.1,468.21 188.0,468.09 192.9,467.98 197.8,467.87 202.7,467.75 207.6,467.62 212.6,467.48 217.5,467.32 222.5,467.15 227.4,466.95 232.4,466.74 237.4,466.51 242.3,466.27 247.3,466.01 252.2,465.73 257.2,465.44 262.2,465.14 267.1,464.83 272.1,464.51 277.0,464.18 282.0,463.85 287.0,463.50 291.9,463.16 296.9,462.80 301.8,462.44 306.8,462.08 311.8,461.72 316.7,461.36 321.7,460.99 326.7,460.62 331.6,460.26 336.6,459.89 341.6,459.53 346.6,459.17 351.5,458.81 356.5,458.45 361.5,458.10 366.4,457.75 371.4,457.40 376.4,457.05 381.4,456.70 386.3,456.36 391.3,456.02 396.3,455.69 401.2,455.36 406.2,455.04 411.2,454.73 416.1,454.42 421.1,454.12 426.0,453.82 431.0,453.53 436.0,453.24 440.9,452.96 445.9,452.69 450.8,452.42 455.8,452.16 460.8,451.90 465.7,451.65 470.7,451.41 475.6,451.17 480.6,450.94 485.6,450.71 490.5,450.49 495.5,450.27 500.4,450.06 505.4,449.85 510.3,449.65 515.3,449.45 520.2,449.26 525.2,449.07 530.1,448.89 535.1,448.71 540.0,448.54 545.0,448.37 550.0,448.21 554.9,448.04 559.8,447.89 564.8,447.73 569.8,447.58 574.7,447.44 579.6,447.29 584.6,447.15 589.5,447.01 594.5,446.88 599.5,446.74 604.4,446.61" fill="none" stroke="#c038c4" stroke-width="1.8" stroke-linejoin="round"/>
<polyline points="109.4,442.93 114.3,442.39 119.2,441.88 124.1,441.40 129.0,440.95 133.9,440.53 138.9,440.14 143.8,439.78 148.7,439.45 153.6,439.16 158.5,438.90 163.4,438.67 168.3,438.48 173.2,438.32 178.1,438.18 183.1,438.06 188.0,437.96 192.9,437.86 197.8,437.78 202.7,437.69 207.6,437.61 212.6,437.52 217.5,437.43 222.5,437.34 227.4,437.24 232.4,437.13 237.4,437.02 242.3,436.91 247.3,436.79 252.2,436.67 257.2,436.55 262.2,436.42 267.1,436.30 272.1,436.17 277.0,436.03 282.0,435.90 287.0,435.77 291.9,435.63 296.9,435.49 301.8,435.34 306.8,435.20 311.8,435.05 316.7,434.89 321.7,434.74 326.7,434.58 331.6,434.41 336.6,434.24 341.6,434.07 346.6,433.90 351.5,433.72 356.5,433.54 361.5,433.35 366.4,433.16 371.4,432.96 376.4,432.76 381.4,432.56 386.3,432.36 391.3,432.15 396.3,431.94 401.2,431.73 406.2,431.51 411.2,431.29 416.1,431.07 421.1,430.85 426.0,430.62 431.0,430.40 436.0,430.17 440.9,429.94 445.9,429.70 450.8,429.47 455.8,429.23 460.8,429.00 465.7,428.76 470.7,428.52 475.6,428.28 480.6,428.04 485.6,427.81 490.5,427.57 495.5,427.33 500.4,427.09 505.4,426.85 510.3,426.62 515.3,426.38 520.2,426.15 525.2,425.92 530.1,425.69 535.1,425.46 540.0,425.23 545.0,425.00 550.0,424.78 554.9,424.56 559.8,424.34 564.8,424.12 569.8,423.90 574.7,423.69 579.6,423.48 584.6,423.28 589.5,423.07 594.5,422.87 599.5,422.67 604.4,422.48" fill="none" stroke="#bf8a26" stroke-width="1.7" stroke-linejoin="round"/>
<polyline points="109.4,471.23 114.3,470.07 119.2,469.09 124.1,468.26 129.0,467.55 133.9,466.93 138.9,466.40 143.8,465.93 148.7,465.54 153.6,465.20 158.5,464.91 163.4,464.67 168.3,464.47 173.2,464.30 178.1,464.16 183.1,464.04 188.0,463.93 192.9,463.82 197.8,463.71 202.7,463.60 207.6,463.47 212.6,463.33 217.5,463.18 222.5,463.00 227.4,462.81 232.4,462.60 237.4,462.37 242.3,462.13 247.3,461.87 252.2,461.59 257.2,461.30 262.2,461.00 267.1,460.69 272.1,460.37 277.0,460.04 282.0,459.71 287.0,459.36 291.9,459.01 296.9,458.66 301.8,458.30 306.8,457.94 311.8,457.56 316.7,457.19 321.7,456.81 326.7,456.43 331.6,456.05 336.6,455.67 341.6,455.29 346.6,454.92 351.5,454.55 356.5,454.18 361.5,453.82 366.4,453.46 371.4,453.10 376.4,452.75 381.4,452.40 386.3,452.06 391.3,451.73 396.3,451.40 401.2,451.07 406.2,450.75 411.2,450.44 416.1,450.13 421.1,449.83 426.0,449.53 431.0,449.24 436.0,448.96 440.9,448.68 445.9,448.41 450.8,448.15 455.8,447.89 460.8,447.64 465.7,447.39 470.7,447.15 475.6,446.91 480.6,446.68 485.6,446.46 490.5,446.24 495.5,446.03 500.4,445.82 505.4,445.62 510.3,445.42 515.3,445.23 520.2,445.05 525.2,444.87 530.1,444.69 535.1,444.52 540.0,444.35 545.0,444.19 550.0,444.03 554.9,443.88 559.8,443.73 564.8,443.59 569.8,443.45 574.7,443.31 579.6,443.17 584.6,443.04 589.5,442.91 594.5,442.79 599.5,442.67 604.4,442.55" fill="none" stroke="#121270" stroke-width="2.0" stroke-linejoin="round"/>
<polyline points="109.4,513.38 114.3,511.63 119.2,510.13 124.1,508.82 129.0,507.64 133.9,506.59 138.9,505.64 143.8,504.81 148.7,504.06 153.6,503.38 158.5,502.77 163.4,502.22 168.3,501.73 173.2,501.28 178.1,500.87 183.1,500.50 188.0,500.16 192.9,499.84 197.8,499.54 202.7,499.24 207.6,498.96 212.6,498.68 217.5,498.40 222.5,498.13 227.4,497.85 232.4,497.58 237.4,497.30 242.3,497.03 247.3,496.75 252.2,496.48 257.2,496.21 262.2,495.93 267.1,495.66 272.1,495.39 277.0,495.12 282.0,494.85 287.0,494.58 291.9,494.31 296.9,494.04 301.8,493.77 306.8,493.49 311.8,493.21 316.7,492.93 321.7,492.65 326.7,492.36 331.6,492.07 336.6,491.78 341.6,491.48 346.6,491.18 351.5,490.87 356.5,490.56 361.5,490.25 366.4,489.93 371.4,489.60 376.4,489.27 381.4,488.94 386.3,488.60 391.3,488.26 396.3,487.91 401.2,487.56 406.2,487.20 411.2,486.84 416.1,486.48 421.1,486.11 426.0,485.74 431.0,485.36 436.0,484.98 440.9,484.59 445.9,484.21 450.8,483.82 455.8,483.42 460.8,483.03 465.7,482.63 470.7,482.22 475.6,481.80 480.6,481.38 485.6,480.96 490.5,480.54 495.5,480.11 500.4,479.68 505.4,479.26 510.3,478.83 515.3,478.40 520.2,477.97 525.2,477.54 530.1,477.11 535.1,476.68 540.0,476.25 545.0,475.81 550.0,475.38 554.9,474.95 559.8,474.52 564.8,474.09 569.8,473.66 574.7,473.23 579.6,472.81 584.6,472.38 589.5,471.96 594.5,471.53 599.5,471.11 604.4,470.69" fill="none" stroke="#9c2218" stroke-width="1.9" stroke-linejoin="round"/>
<line x1="109.4" y1="406.8" x2="109.4" y2="531.7" stroke="#222" stroke-width="1.1"/>
<line x1="109.4" y1="531.2" x2="604.4" y2="531.2" stroke="#333" stroke-width="1.1"/>
<line x1="604.4" y1="407.3" x2="604.4" y2="531.2" stroke="#555" stroke-width="0.8"/>
<text x="88.4" y="411.6" font-family="Liberation Serif" font-size="10" font-weight="normal" fill="#000" text-anchor="start" textLength="16" lengthAdjust="spacingAndGlyphs" stroke="#000" stroke-width="0.18" xml:space="preserve">1×10</text>
<text x="104.7" y="407" font-family="Liberation Serif" font-size="8" font-weight="normal" fill="#000" text-anchor="start" textLength="3.3" lengthAdjust="spacingAndGlyphs" stroke="#000" stroke-width="0.18" xml:space="preserve">3</text>
<text x="107.5" y="436.5" font-family="Liberation Serif" font-size="10" font-weight="normal" fill="#000" text-anchor="end" textLength="11.6" lengthAdjust="spacingAndGlyphs" stroke="#000" stroke-width="0.18" xml:space="preserve">100</text>
<text x="107.5" y="461" font-family="Liberation Serif" font-size="10" font-weight="normal" fill="#000" text-anchor="end" textLength="7.6" lengthAdjust="spacingAndGlyphs" stroke="#000" stroke-width="0.18" xml:space="preserve">10</text>
<text x="107.3" y="485.6" font-family="Liberation Serif" font-size="10" font-weight="normal" fill="#000" text-anchor="end" textLength="3" lengthAdjust="spacingAndGlyphs" stroke="#000" stroke-width="0.18" xml:space="preserve">1</text>
<text x="107" y="510.6" font-family="Liberation Serif" font-size="10" font-weight="normal" fill="#000" text-anchor="end" textLength="9.8" lengthAdjust="spacingAndGlyphs" stroke="#000" stroke-width="0.18" xml:space="preserve">0.1</text>
<text x="106.8" y="534.8" font-family="Liberation Serif" font-size="10" font-weight="normal" fill="#000" text-anchor="end" textLength="13.6" lengthAdjust="spacingAndGlyphs" stroke="#000" stroke-width="0.18" xml:space="preserve">0.01</text>
<text x="104.8" y="541.8" font-family="Liberation Serif" font-size="10" font-weight="normal" fill="#000" text-anchor="start" textLength="12" lengthAdjust="spacingAndGlyphs" stroke="#000" stroke-width="0.18" xml:space="preserve">100</text>
<text x="202.8" y="541.8" font-family="Liberation Serif" font-size="10" font-weight="normal" fill="#000" text-anchor="start" textLength="12" lengthAdjust="spacingAndGlyphs" stroke="#000" stroke-width="0.18" xml:space="preserve">200</text>
<text x="302.0" y="541.8" font-family="Liberation Serif" font-size="10" font-weight="normal" fill="#000" text-anchor="start" textLength="12" lengthAdjust="spacingAndGlyphs" stroke="#000" stroke-width="0.18" xml:space="preserve">300</text>
<text x="401.4" y="541.8" font-family="Liberation Serif" font-size="10" font-weight="normal" fill="#000" text-anchor="start" textLength="12" lengthAdjust="spacingAndGlyphs" stroke="#000" stroke-width="0.18" xml:space="preserve">400</text>
<text x="500.6" y="541.8" font-family="Liberation Serif" font-size="10" font-weight="normal" fill="#000" text-anchor="start" textLength="12" lengthAdjust="spacingAndGlyphs" stroke="#000" stroke-width="0.18" xml:space="preserve">500</text>
<text x="599.6" y="541.8" font-family="Liberation Serif" font-size="10" font-weight="normal" fill="#000" text-anchor="start" textLength="12" lengthAdjust="spacingAndGlyphs" stroke="#000" stroke-width="0.18" xml:space="preserve">600</text>
<text x="352" y="555.2" font-family="Liberation Serif" font-size="10" font-weight="normal" fill="#000" text-anchor="start" textLength="11.8" lengthAdjust="spacingAndGlyphs" stroke="#000" stroke-width="0.18" xml:space="preserve">Vol</text>
<text x="10" y="431.2" font-family="Liberation Serif" font-size="9.4" font-weight="normal" fill="#000" text-anchor="start" textLength="54.5" lengthAdjust="spacingAndGlyphs" stroke="#000" stroke-width="0.18" xml:space="preserve">fz_25degC(Vol)</text>
<rect x="10" y="435.1" width="17" height="1.6" fill="#8a4444"/>
<text x="10" y="448.7" font-family="Liberation Serif" font-size="9.4" font-weight="normal" fill="#000" text-anchor="start" textLength="58.8" lengthAdjust="spacingAndGlyphs" stroke="#000" stroke-width="0.18" xml:space="preserve">fz_100degC(Vol)</text>
<rect x="10" y="452.6" width="17" height="1.6" fill="#141478"/>
<text x="10" y="466.0" font-family="Liberation Serif" font-size="9.4" font-weight="normal" fill="#000" text-anchor="start" textLength="58.8" lengthAdjust="spacingAndGlyphs" stroke="#000" stroke-width="0.18" xml:space="preserve">fz_150degC(Vol)</text>
<rect x="10" y="469.9" width="17" height="1.6" fill="#c09a50"/>
<text x="10" y="483.4" font-family="Liberation Serif" font-size="9.4" font-weight="normal" fill="#000" text-anchor="start" textLength="66.3" lengthAdjust="spacingAndGlyphs" stroke="#000" stroke-width="0.18" xml:space="preserve">Current_B(75,Vol)</text>
<rect x="10" y="487.3" width="17" height="1.6" fill="#c030c0"/>
<text x="10" y="500.9" font-family="Liberation Serif" font-size="9.4" font-weight="normal" fill="#000" text-anchor="start" textLength="70.5" lengthAdjust="spacingAndGlyphs" stroke="#000" stroke-width="0.18" xml:space="preserve">Current_B(125,Vol)</text>
<rect x="10" y="504.8" width="17" height="1.6" fill="#58dada"/>
<text x="441" y="553.2" font-family="Liberation Sans" font-size="20" font-weight="normal" fill="#c8e0bc" text-anchor="start" textLength="164" lengthAdjust="spacingAndGlyphs" stroke="#c8e0bc" stroke-width="0.18" xml:space="preserve">www.cntronics.com</text>
</g>
</svg>
</body></html>
